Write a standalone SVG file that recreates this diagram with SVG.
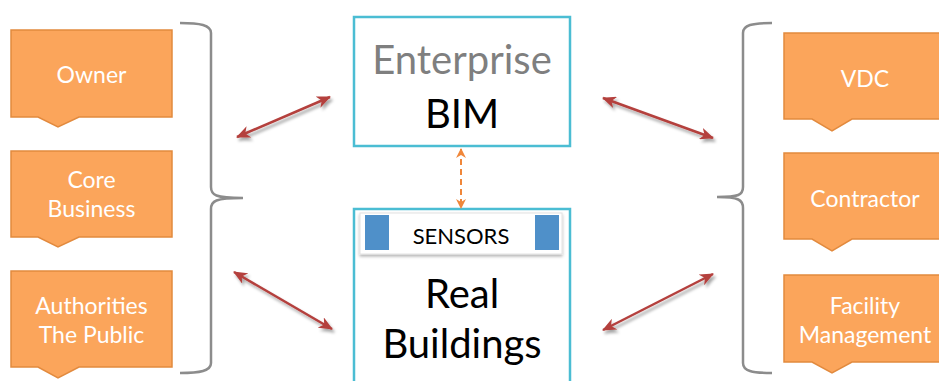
<svg xmlns="http://www.w3.org/2000/svg" width="939" height="381" viewBox="0 0 939 381">
  <defs>
    <style>
      .role { fill: #FBA55B; stroke: #E28A3E; stroke-width: 1.5; }
      .role-text { font-family: Lato, "Open Sans", sans-serif; font-size: 23px; fill: #FFFFFF; text-anchor: middle; }
      .core { fill: #FFFFFF; stroke: #4BBDD3; stroke-width: 2.5; }
      .big { font-family: Lato, "Open Sans", sans-serif; font-size: 40px; fill: #000000; text-anchor: middle; }
      .brace { fill: none; stroke: #8C8C8C; stroke-width: 2.5; }
      .link { fill: none; stroke: #B4403D; stroke-width: 2.5; marker-start: url(#redHead); marker-end: url(#redHead); filter: url(#arrowShadow); }
      .sync { fill: none; stroke: #F0873A; stroke-width: 2; stroke-dasharray: 6 4; marker-start: url(#orangeHead); marker-end: url(#orangeHead); }
      .sensor { fill: #4F90C9; }
    </style>
    <marker id="redHead" viewBox="0 0 14 12" refX="13" refY="6" markerWidth="14" markerHeight="12" markerUnits="userSpaceOnUse" orient="auto-start-reverse">
      <path d="M0,0 L14,6 L0,12 L4,6 Z" fill="#B4403D"/>
    </marker>
    <marker id="orangeHead" viewBox="0 0 10 10" refX="9" refY="5" markerWidth="10" markerHeight="10" markerUnits="userSpaceOnUse" orient="auto-start-reverse">
      <path d="M0,0 L10,5 L0,10 L3,5 Z" fill="#F0873A"/>
    </marker>
    <filter id="arrowShadow" x="-20%" y="-40%" width="140%" height="180%">
      <feDropShadow dx="2" dy="3" stdDeviation="1.8" flood-color="#000000" flood-opacity="0.35"/>
    </filter>
    <filter id="barShadow" x="-10%" y="-20%" width="120%" height="160%">
      <feDropShadow dx="0" dy="2" stdDeviation="1.5" flood-color="#000000" flood-opacity="0.3"/>
    </filter>
  </defs>

  <!-- braces grouping the stakeholders on each side -->
  <g id="braces">
    <path class="brace" d="M180,23 C200,23 211,25 211,33 L211,187 C211,195 215,198 243,198 C215,198 211,201 211,209 L211,363 C211,371 200,373 180,373"/>
    <path class="brace" d="M772,23 C752,23 743,25 743,33 L743,187 C743,195 739,197 717,197 C739,197 743,200 743,208 L743,363 C743,371 752,373 772,373"/>
  </g>

  <!-- left-hand stakeholders -->
  <g id="owner">
    <path class="role" d="M11,30 H172 V117 H79 L58,127 L38,117 H11 Z"/>
    <text class="role-text" x="91.5" y="83">Owner</text>
  </g>
  <g id="core-business">
    <path class="role" d="M11,151 H172 V237 H79 L58,247 L38,237 H11 Z"/>
    <text class="role-text" x="91.5" y="188">Core</text>
    <text class="role-text" x="91.5" y="217">Business</text>
  </g>
  <g id="authorities">
    <path class="role" d="M11,271 H172 V367 H79 L58,378 L38,367 H11 Z"/>
    <text class="role-text" x="91.5" y="314">Authorities</text>
    <text class="role-text" x="91.5" y="343">The Public</text>
  </g>

  <!-- right-hand stakeholders -->
  <g id="vdc">
    <path class="role" d="M784,33 H946 V119 H852 L832,131 L812,119 H784 Z"/>
    <text class="role-text" x="865" y="87">VDC</text>
  </g>
  <g id="contractor">
    <path class="role" d="M784,153 H946 V239 H852 L832,251 L812,239 H784 Z"/>
    <text class="role-text" x="865" y="207">Contractor</text>
  </g>
  <g id="facility-management">
    <path class="role" d="M784,275 H946 V362 H852 L832,373 L812,362 H784 Z"/>
    <text class="role-text" x="865" y="314">Facility</text>
    <text class="role-text" x="865" y="343">Management</text>
  </g>

  <!-- central model and the physical buildings -->
  <g id="enterprise-bim">
    <rect class="core" x="354" y="17" width="216" height="129"/>
    <text class="big" x="462" y="74" fill="#7F7F7F" style="fill:#7F7F7F">Enterprise</text>
    <text class="big" x="462" y="128">BIM</text>
  </g>
  <g id="real-buildings">
    <rect class="core" x="354" y="209" width="216" height="190"/>
    <g id="sensors">
      <rect x="360" y="213" width="202" height="41" fill="#FFFFFF" stroke="#E2E2E2" stroke-width="1" filter="url(#barShadow)"/>
      <rect class="sensor" x="365" y="215" width="24" height="35"/>
      <rect class="sensor" x="535" y="215" width="24" height="35"/>
      <text x="461" y="244" font-family="Lato, 'Open Sans', sans-serif" font-size="22" fill="#000000" text-anchor="middle">SENSORS</text>
    </g>
    <text class="big" x="462" y="308">Real</text>
    <text class="big" x="462" y="358">Buildings</text>
  </g>

  <!-- connectors -->
  <g id="connectors">
    <path class="link" d="M237,137 L330,97"/>
    <path class="link" d="M603,98 L713,138"/>
    <path class="link" d="M234,272 L332,329"/>
    <path class="link" d="M603,330 L713,274"/>
    <path class="sync" d="M461,149 L461,208"/>
  </g>
</svg>
